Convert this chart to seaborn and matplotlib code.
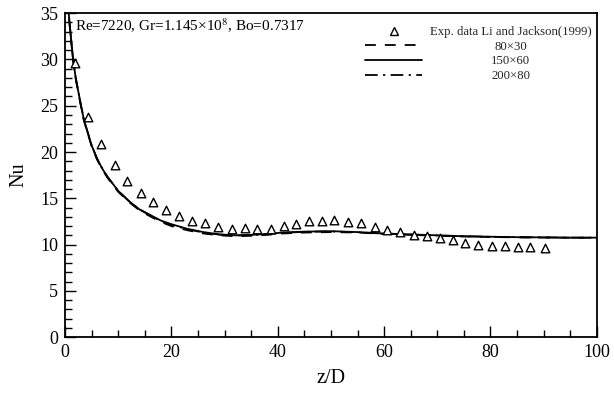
import matplotlib
matplotlib.use("Agg")
import matplotlib.pyplot as plt
from matplotlib.lines import Line2D
from matplotlib.ticker import MultipleLocator
import numpy as np
import pandas as pd
import seaborn as sns

# Experimental data, Li and Jackson (1999)
exp_z = [1.9, 4.4, 6.8, 9.3, 11.7, 14.2, 16.5, 18.9, 21.4, 23.9, 26.3, 28.8,
         31.3, 33.8, 36.1, 38.7, 41.1, 43.5, 45.9, 48.3, 50.6, 53.3, 55.6,
         58.2, 60.6, 63.0, 65.6, 68.0, 70.5, 72.9, 75.3, 77.7, 80.2, 82.8,
         85.2, 87.5, 90.2]
exp_nu = [29.6, 23.8, 20.9, 18.6, 16.9, 15.6, 14.6, 13.7, 13.1, 12.6, 12.3,
          11.9, 11.7, 11.8, 11.7, 11.7, 12.0, 12.2, 12.5, 12.6, 12.7, 12.4,
          12.3, 11.9, 11.6, 11.4, 11.0, 10.9, 10.7, 10.5, 10.2, 10.0, 9.9,
          9.8, 9.7, 9.7, 9.6]

# Computed Nusselt number along the tube for three meshes
sim_z = [0.3, 0.6, 1.0, 1.5, 2.0, 2.5, 3.0, 3.5, 4.0, 5.0, 6.0, 7.0, 8.0,
         10.0, 12.0, 14.0, 16.0, 18.0, 20.0, 23.0, 26.0, 29.0, 32.0, 35.0,
         38.0, 41.0, 45.0, 50.0, 55.0, 60.0, 65.0, 70.0, 75.0, 80.0, 85.0,
         90.0, 95.0, 100.0]
nu_80x30 = [38.5, 35.3, 32.8, 29.9, 27.9, 26.4, 24.9, 23.5, 22.5, 20.6, 19.2,
            18.1, 17.2, 15.7, 14.6, 13.7, 13.05, 12.45, 12.0, 11.55, 11.2,
            11.0, 10.9, 10.95, 11.05, 11.2, 11.3, 11.35, 11.3, 11.15, 11.05,
            10.95, 10.88, 10.82, 10.78, 10.76, 10.74, 10.74]
nu_150x60 = [38.8, 35.5, 33.0, 30.0, 28.0, 26.5, 25.0, 23.6, 22.6, 20.7, 19.3,
             18.2, 17.3, 15.8, 14.7, 13.8, 13.2, 12.6, 12.2, 11.7, 11.35,
             11.1, 11.0, 11.05, 11.15, 11.3, 11.4, 11.45, 11.35, 11.2, 11.1,
             11.0, 10.9, 10.85, 10.8, 10.78, 10.75, 10.75]
nu_200x80 = [38.7, 35.4, 32.9, 30.0, 28.0, 26.5, 25.0, 23.6, 22.6, 20.7, 19.3,
             18.2, 17.3, 15.8, 14.7, 13.8, 13.15, 12.55, 12.15, 11.65, 11.3,
             11.08, 10.98, 11.02, 11.12, 11.27, 11.38, 11.42, 11.33, 11.18,
             11.08, 10.98, 10.9, 10.84, 10.8, 10.77, 10.75, 10.75]

mesh_labels = ["80\u00d730", "150\u00d760", "200\u00d780"]
exp_label = "Exp. data Li and Jackson(1999)"
note = "Re=7220, Gr=1.145\u00d710$^{8}$, Bo=0.7317"

sns.set_theme(style="white")
plt.rcParams["font.family"] = ["Liberation Serif", "DejaVu Serif"]
plt.rcParams["mathtext.fontset"] = "stix"

fig = plt.figure(figsize=(6.14, 3.99), dpi=100)
ax = fig.add_axes([0.106, 0.155, 0.866, 0.812])

line_styles = [(0, (6, 5)), "-", (0, (7, 3, 1.2, 3))]
for lab, nu, ls in zip(mesh_labels, [nu_80x30, nu_150x60, nu_200x80], line_styles):
    df = pd.DataFrame({"z": sim_z, "Nu": nu})
    sns.lineplot(data=df, x="z", y="Nu", ax=ax, color="black", lw=1.3,
                 linestyle=ls, legend=False)

df_exp = pd.DataFrame({"z": exp_z, "Nu": exp_nu})
sns.scatterplot(data=df_exp, x="z", y="Nu", ax=ax, marker="^", s=38,
                facecolor="white", edgecolor="black", linewidth=1.0,
                legend=False, zorder=3)

ax.set_xlim(0, 100)
ax.set_ylim(0, 35)
ax.xaxis.set_major_locator(MultipleLocator(20))
ax.xaxis.set_minor_locator(MultipleLocator(5))
ax.yaxis.set_major_locator(MultipleLocator(5))
ax.yaxis.set_minor_locator(MultipleLocator(1))
ax.tick_params(which="both", direction="in", top=False, right=False,
               bottom=True, left=True, color="black", width=1.0,
               labelsize=13, labelcolor="black")
ax.tick_params(which="major", length=8, pad=5)
ax.tick_params(which="minor", length=5)
for sp in ax.spines.values():
    sp.set_color("black")
    sp.set_linewidth(1.3)
ax.grid(False)

ax.set_xlabel("z/D", fontsize=14.5, color="black", labelpad=6)
ax.set_ylabel("Nu", fontsize=14.5, color="black", labelpad=8)

ax.text(0.018, 0.99, note, transform=ax.transAxes, ha="left", va="top",
        fontsize=11, color="black")

handles = [Line2D([], [], ls="none", marker="^", markersize=6,
                  markerfacecolor="white", markeredgecolor="black",
                  markeredgewidth=1.0)]
for ls in line_styles:
    handles.append(Line2D([], [], color="black", lw=1.3, linestyle=ls))
leg = ax.legend(handles, [exp_label] + mesh_labels, loc="upper right",
                frameon=False, fontsize=9.2, handlelength=4.5,
                handletextpad=0.6, labelspacing=0.2, borderaxespad=0.0,
                bbox_to_anchor=(1.0, 0.975))

# center the legend labels within their column
fig.canvas.draw()
texts = leg.get_texts()
widths = [t.get_window_extent().width for t in texts]
wmax = max(widths)
for t, w in zip(texts, widths):
    t.set_x((wmax - w) / 2.0)

fig.savefig("out.png", dpi=100, facecolor="white")
